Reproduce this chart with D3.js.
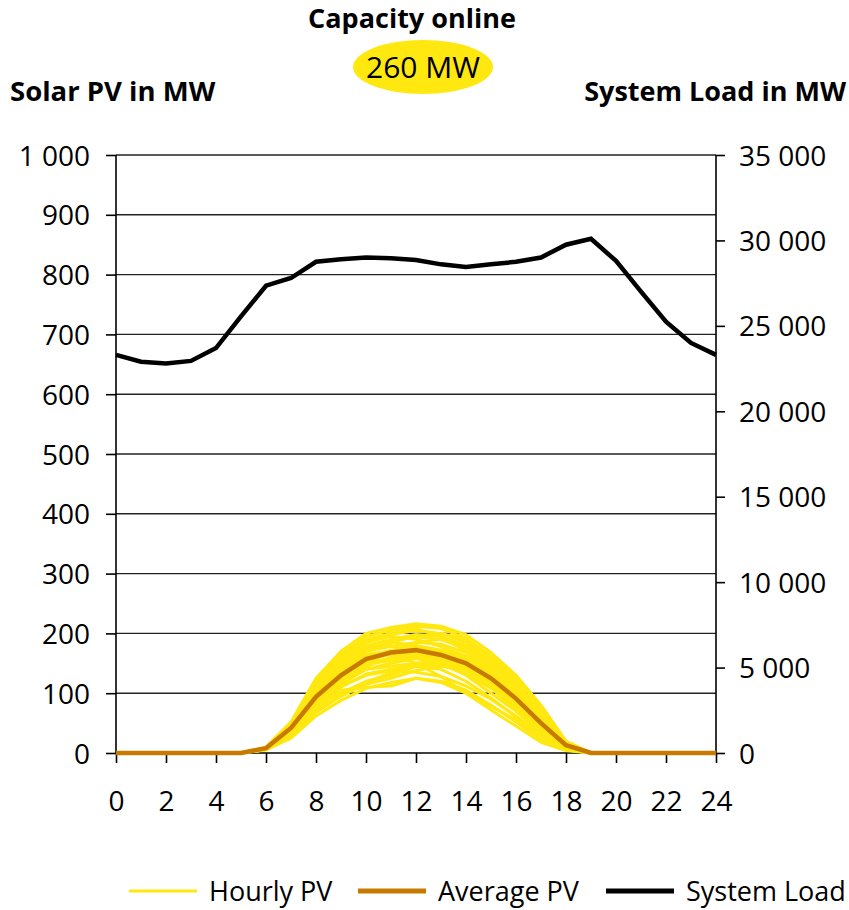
<!DOCTYPE html>
<html>
<head>
<meta charset="utf-8">
<script src="https://cdn.jsdelivr.net/npm/d3@7"></script>
<style>
  body { margin: 0; background: #fff; }
  svg { font-family: "Open Sans", sans-serif; }
</style>
</head>
<body>
<div id="chart"></div>
<script>
// hours of the day
var hours = d3.range(0, 25);

// system load in MW, hourly (right axis)
var systemLoad = [23300, 22900, 22800, 22950, 23700, 25550, 27350, 27800, 28750, 28900, 29000, 28950,
                  28850, 28600, 28450, 28600, 28750, 29000, 29750, 30100, 28800, 27000, 25250, 24000, 23300];

// average PV in MW (left axis)
var averagePV = [0, 0, 0, 0, 0, 0, 8, 42, 94, 130, 157, 168, 172, 164, 150, 125, 91, 50, 13, 0, 0, 0, 0, 0, 0];

// hourly PV output for each day of the month, MW
var day01 = [0,0,0,0,0,0,10,52,125,170,200,210,216,212,198,168,130,80,20,0,0,0,0,0,0];
var day02 = [0,0,0,0,0,0,9,50,120,165,195,205,212,208,192,162,126,76,18,0,0,0,0,0,0];
var day03 = [0,0,0,0,0,0,8,45,110,150,180,190,198,195,180,150,112,65,15,0,0,0,0,0,0];
var day04 = [0,0,0,0,0,0,8,44,100,140,170,178,185,182,168,140,104,58,14,0,0,0,0,0,0];
var day05 = [0,0,0,0,0,0,7,40,92,128,155,165,170,160,148,122,88,48,12,0,0,0,0,0,0];
var day06 = [0,0,0,0,0,0,7,38,85,118,145,160,165,158,140,115,80,42,10,0,0,0,0,0,0];
var day07 = [0,0,0,0,0,0,6,30,70,100,120,130,145,140,120,92,60,28,6,0,0,0,0,0,0];
var day08 = [0,0,0,0,0,0,6,32,75,105,110,112,125,120,105,80,52,22,5,0,0,0,0,0,0];
var day09 = [0,0,0,0,0,0,8,42,98,138,160,172,175,170,155,128,95,52,13,0,0,0,0,0,0];
var day10 = [0,0,0,0,0,0,9,47,105,145,175,185,180,172,160,135,100,56,14,0,0,0,0,0,0];
var day11 = [0,0,0,0,0,0,5,25,62,88,108,118,125,118,100,72,45,18,4,0,0,0,0,0,0];
var day12 = [0,0,0,0,0,0,7,35,80,115,140,150,158,150,130,100,70,35,8,0,0,0,0,0,0];
var day13 = [0,0,0,0,0,0,8,44,102,142,165,170,168,165,150,118,80,38,10,0,0,0,0,0,0];
var day14 = [0,0,0,0,0,0,9,48,112,155,185,195,190,178,162,138,108,62,16,0,0,0,0,0,0];
var day15 = [0,0,0,0,0,0,7,40,90,125,150,158,162,155,145,125,92,50,12,0,0,0,0,0,0];
var day16 = [0,0,0,0,0,0,6,36,82,110,132,140,148,146,138,115,78,40,10,0,0,0,0,0,0];
var day17 = [0,0,0,0,0,0,8,46,108,148,178,188,194,190,176,146,110,64,16,0,0,0,0,0,0];
var day18 = [0,0,0,0,0,0,7,38,88,120,140,145,150,148,132,108,75,38,9,0,0,0,0,0,0];
var day19 = [0,0,0,0,0,0,9,50,118,160,188,198,205,200,185,155,118,70,18,0,0,0,0,0,0];
var day20 = [0,0,0,0,0,0,6,34,78,112,130,138,135,128,112,90,62,30,7,0,0,0,0,0,0];
var day21 = [0,0,0,0,0,0,8,43,96,135,162,170,178,172,158,130,96,54,13,0,0,0,0,0,0];
var day22 = [0,0,0,0,0,0,7,39,86,122,148,155,160,150,138,112,82,44,11,0,0,0,0,0,0];
var day23 = [0,0,0,0,0,0,7,36,84,120,150,170,185,190,175,140,100,55,14,0,0,0,0,0,0];
var day24 = [0,0,0,0,0,0,6,33,72,95,118,135,150,155,150,132,100,58,15,0,0,0,0,0,0];
var day25 = [0,0,0,0,0,0,8,46,110,152,180,180,160,150,140,118,85,45,11,0,0,0,0,0,0];
var day26 = [0,0,0,0,0,0,7,38,90,130,158,165,150,128,100,78,55,28,7,0,0,0,0,0,0];
var day27 = [0,0,0,0,0,0,9,48,115,158,190,200,208,195,170,140,100,52,12,0,0,0,0,0,0];
var day28 = [0,0,0,0,0,0,6,30,68,95,115,125,138,145,140,122,95,52,13,0,0,0,0,0,0];
var day29 = [0,0,0,0,0,0,8,42,100,145,172,185,195,200,190,160,120,66,16,0,0,0,0,0,0];
var day30 = [0,0,0,0,0,0,7,40,94,132,150,158,172,168,150,110,70,34,8,0,0,0,0,0,0];
var hourlyPV = [day01, day02, day03, day04, day05, day06, day07, day08, day09, day10,
                day11, day12, day13, day14, day15, day16, day17, day18, day19, day20,
                day21, day22, day23, day24, day25, day26, day27, day28, day29, day30];

var xTicks = d3.range(0, 25, 2);
var leftTicks = d3.range(0, 1001, 100);
var rightTicks = d3.range(0, 35001, 5000);
var legendItems = ["Hourly PV", "Average PV", "System Load"];

var colYellow = "#FFE80F",
    colAvg = "#C87A00",
    colLoad = "#000000";

var width = 849, height = 910;
var margin = {top: 155, right: 133, bottom: 157, left: 116};

var svg = d3.select("#chart")
    .append("svg")
    .attr("width", width)
    .attr("height", height);

var x = d3.scaleLinear().domain([0, 24]).range([margin.left, width - margin.right]);
var yL = d3.scaleLinear().domain([0, 1000]).range([height - margin.bottom, margin.top]);
var yR = d3.scaleLinear().domain([0, 35000]).range([height - margin.bottom, margin.top]);

var spaceFmt = d3.formatLocale({decimal: ".", thousands: " ", grouping: [3], currency: ["", ""]}).format(",");

// gridlines
svg.append("g")
    .selectAll("line")
    .data(leftTicks.slice(1))
    .enter()
    .append("line")
    .attr("x1", x(0))
    .attr("x2", x(24))
    .attr("y1", d => yL(d))
    .attr("y2", d => yL(d))
    .attr("stroke", "#222")
    .attr("stroke-width", 1.4);

// left axis
var axL = svg.append("g")
    .attr("transform", `translate(${x(0)},0)`)
    .call(d3.axisLeft(yL).tickValues(leftTicks).tickSize(10).tickPadding(16).tickFormat(spaceFmt));

// right axis
var axR = svg.append("g")
    .attr("transform", `translate(${x(24)},0)`)
    .call(d3.axisRight(yR).tickValues(rightTicks).tickSize(9).tickPadding(14).tickFormat(spaceFmt));

// bottom axis
var axB = svg.append("g")
    .attr("transform", `translate(0,${yL(0)})`)
    .call(d3.axisBottom(x).tickValues(xTicks).tickSize(10).tickPadding(28).tickFormat(d3.format("d")));

[axL, axR, axB].forEach(function(a) {
    a.select(".domain").attr("stroke", "#000").attr("stroke-width", 1.6);
    a.selectAll(".tick line").attr("stroke", "#000").attr("stroke-width", 1.6);
    a.selectAll(".tick text")
        .attr("fill", "#000")
        .style("font-size", "28px")
        .style("font-family", "'Open Sans', sans-serif");
});
axL.select(".domain").attr("d", `M0,${yL(1000)}V${yL(0)}`);
axR.select(".domain").attr("d", `M0,${yR(35000)}V${yR(0)}`);
axB.select(".domain").attr("d", `M${x(0)},0H${x(24)}`);
axL.selectAll(".tick text").attr("dy", "0.36em");
axR.selectAll(".tick text").attr("dy", "0.36em");

// hourly PV lines
var linePV = d3.line()
    .x((d, i) => x(hours[i]))
    .y(d => yL(d));

svg.append("g")
    .selectAll("path")
    .data(hourlyPV)
    .enter()
    .append("path")
    .attr("d", linePV)
    .attr("fill", "none")
    .attr("stroke", colYellow)
    .attr("stroke-width", 3)
    .attr("stroke-linejoin", "round");

// average PV
svg.append("path")
    .datum(averagePV)
    .attr("d", linePV)
    .attr("fill", "none")
    .attr("stroke", colAvg)
    .attr("stroke-width", 4.5);

// system load
var lineLoad = d3.line()
    .x((d, i) => x(hours[i]))
    .y(d => yR(d));

svg.append("path")
    .datum(systemLoad)
    .attr("d", lineLoad)
    .attr("fill", "none")
    .attr("stroke", colLoad)
    .attr("stroke-width", 4.5);

// titles
svg.append("text")
    .attr("x", 412)
    .attr("y", 28)
    .attr("text-anchor", "middle")
    .style("font-size", "27px")
    .style("font-weight", "bold")
    .text("Capacity online");

svg.append("ellipse")
    .attr("cx", 423)
    .attr("cy", 67)
    .attr("rx", 70)
    .attr("ry", 27)
    .attr("fill", colYellow);

svg.append("text")
    .attr("x", 423)
    .attr("y", 78)
    .attr("text-anchor", "middle")
    .style("font-size", "30px")
    .text("260 MW");

svg.append("text")
    .attr("x", 10)
    .attr("y", 101)
    .style("font-size", "27.5px")
    .style("font-weight", "bold")
    .text("Solar PV in MW");

svg.append("text")
    .attr("x", 846)
    .attr("y", 101)
    .attr("text-anchor", "end")
    .style("font-size", "27px")
    .style("font-weight", "bold")
    .text("System Load in MW");

// legend
var legendX = [129, 358, 606];
var legendStroke = [colYellow, colAvg, colLoad];
var legendWidth = [3, 5, 5];

var legend = svg.append("g").selectAll("g")
    .data(legendItems)
    .enter()
    .append("g")
    .attr("transform", (d, i) => `translate(${legendX[i]},891)`);

legend.append("line")
    .attr("x1", 0)
    .attr("x2", 68)
    .attr("stroke", (d, i) => legendStroke[i])
    .attr("stroke-width", (d, i) => legendWidth[i]);

legend.append("text")
    .attr("x", 80)
    .attr("y", 10)
    .style("font-size", "27px")
    .text(d => d);
</script>
</body>
</html>
